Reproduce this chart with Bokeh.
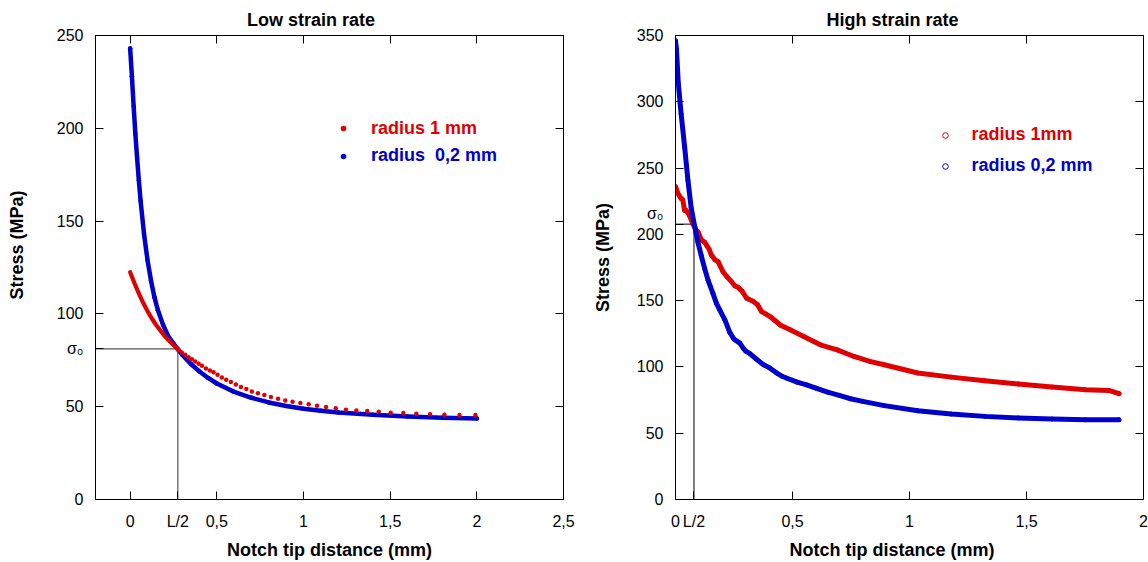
from bokeh.plotting import figure
from bokeh.layouts import row
from bokeh.models import (Range1d, LinearAxis, FixedTicker, CustomJSTickFormatter,
                          Legend, LegendItem)
from bokeh.core.properties import value
from bokeh.embed import file_html
from bokeh.resources import INLINE

RED = "#e00000"
BLUE = "#0000cc"
FONT = "Liberation Sans"
NB = "\u00a0"

# ---------------- Low strain rate (left) ----------------
low_x_ticks = [0, 0.5, 1, 1.5, 2, 2.5]
low_y_ticks = [0, 50, 100, 150, 200, 250]

low_r1_line_x = [0, 0.025, 0.05, 0.075, 0.1, 0.125, 0.15, 0.175, 0.2, 0.225, 0.25, 0.279]
low_r1_line_y = [122.5, 116.5, 111, 106, 101.5, 97.5, 94, 91, 88, 85.5, 83.2, 80.6]

low_r1_dot_x = [0.279, 0.298, 0.318, 0.337, 0.356, 0.375, 0.395, 0.414, 0.437, 0.460,
                0.481, 0.504, 0.529, 0.554, 0.581, 0.610, 0.639, 0.670, 0.702, 0.737,
                0.774, 0.812, 0.853, 0.895, 0.937, 0.982, 1.030, 1.078, 1.130, 1.186,
                1.245, 1.305, 1.368, 1.434, 1.503, 1.576, 1.651, 1.730, 1.813, 1.900, 1.992]
low_r1_dot_y = [80.6, 79.2, 78.0, 76.7, 75.6, 74.4, 73.1, 72.0, 70.6, 69.5,
                68.5, 67.2, 65.8, 64.5, 63.3, 62.0, 60.6, 59.5, 58.2, 57.2,
                56.3, 55.2, 54.3, 53.4, 52.7, 52.0, 51.3, 50.5, 49.8, 49.1,
                48.4, 48.0, 47.7, 47.3, 46.8, 46.6, 46.2, 45.9, 45.7, 45.5, 45.5]

low_r02_x = [0, 0.01, 0.02, 0.03, 0.04, 0.05, 0.06, 0.08, 0.1, 0.12, 0.14, 0.16, 0.19,
             0.22, 0.25, 0.275, 0.3, 0.35, 0.4, 0.45, 0.5, 0.6, 0.7, 0.8, 0.9, 1.0,
             1.1, 1.2, 1.4, 1.6, 1.8, 2.0]
low_r02_y = [243, 228, 212, 197, 184, 172, 161, 143, 129, 118, 109, 102, 94,
             88, 84, 81, 78, 73, 69, 65.5, 62.5, 58, 54.8, 52.3, 50.4, 48.9,
             47.8, 46.9, 45.6, 44.7, 44.1, 43.7]

low_sigma0 = 81.2
low_half_L = 0.275

# ---------------- High strain rate (right) ----------------
high_x_ticks = [0, 0.5, 1, 1.5, 2]
high_y_ticks = [0, 50, 100, 150, 200, 250, 300, 350]

high_r1_x = [0, 0.01, 0.024, 0.031, 0.039, 0.046, 0.06, 0.074, 0.089, 0.096, 0.11,
             0.125, 0.132, 0.143, 0.153, 0.168, 0.182, 0.203, 0.22, 0.239, 0.255,
             0.268, 0.285, 0.304, 0.333, 0.35, 0.368, 0.385, 0.404, 0.425, 0.447,
             0.49, 0.548, 0.619, 0.691, 0.763, 0.834, 0.892, 1.035, 1.178, 1.322,
             1.465, 1.609, 1.752, 1.852, 1.895]
high_r1_y = [236, 231, 227, 226, 218, 218, 214, 208, 203, 202, 196,
             194, 192, 189, 184.5, 181, 179.4, 171.8, 168, 164.3, 161,
             160, 157, 151.8, 149.3, 147, 141.7, 140, 138, 135, 131.7,
             128, 123, 116.7, 112.9, 107.9, 104, 101.6, 95.4, 92.3, 89.6,
             87.1, 84.8, 82.8, 82.3, 79.8]

high_r02_x = [0, 0.004, 0.012, 0.024, 0.039, 0.053, 0.067, 0.082, 0.096, 0.11, 0.125,
              0.139, 0.16, 0.175, 0.189, 0.211, 0.232, 0.25, 0.275, 0.29, 0.3, 0.318,
              0.345, 0.376, 0.4, 0.433, 0.455, 0.476, 0.52, 0.56, 0.6, 0.65, 0.7,
              0.748, 0.8, 0.892, 1.035, 1.178, 1.322, 1.465, 1.609, 1.752, 1.895]
high_r02_y = [346, 340, 314, 291, 266, 241, 220, 206, 194, 184, 174,
              165.5, 155.5, 148, 143, 135.5, 126, 121, 118, 114, 112, 110,
              106, 101.6, 99.5, 95.4, 93, 91.5, 88.5, 86.5, 84, 81, 78.5,
              76, 74, 70.8, 67, 64.5, 62.7, 61.5, 60.7, 60.2, 60.2]

high_sigma0 = 207.7
high_half_L = 0.079


def style_axes(p, xticks, yticks, x_over, y_over, ylabel, ylabel_standoff, xlabel):
    bottom = p.below[0]
    left = p.left[0]
    top = LinearAxis()
    right = LinearAxis()
    p.add_layout(top, "above")
    p.add_layout(right, "right")
    bottom.ticker = FixedTicker(ticks=sorted(xticks + list(x_over.keys())))
    top.ticker = FixedTicker(ticks=xticks)
    left.ticker = FixedTicker(ticks=sorted(yticks + list(y_over.keys())))
    right.ticker = FixedTicker(ticks=yticks)
    for ax in [bottom, left, top, right]:
        ax.axis_line_color = "black"
        ax.major_tick_line_color = "black"
        ax.major_tick_in = 8
        ax.major_tick_out = 0
        ax.minor_tick_line_color = None
        ax.major_label_text_font = FONT
        ax.major_label_text_font_size = "16px"
        ax.major_label_text_color = "black"
        ax.axis_label_text_font = FONT
        ax.axis_label_text_font_size = "18px"
        ax.axis_label_text_font_style = "bold"
        ax.axis_label_text_color = "black"
    bottom.formatter = CustomJSTickFormatter(code="return tick.toString().replace('.', ',');")
    bottom.major_label_overrides = x_over
    left.major_label_overrides = y_over
    bottom.major_label_standoff = 13
    left.major_label_standoff = 12
    bottom.axis_label = xlabel
    bottom.axis_label_standoff = 7
    left.axis_label = ylabel
    left.axis_label_standoff = ylabel_standoff
    for ax in [top, right]:
        ax.formatter = CustomJSTickFormatter(code="return '';")
        ax.major_label_text_font_size = "0px"
        ax.major_label_standoff = 0
    p.xgrid.visible = False
    p.ygrid.visible = False
    p.outline_line_color = "black"
    p.background_fill_color = "white"
    p.border_fill_color = "white"


def style_title(p, text, offset):
    p.title.text = text
    p.title.align = "left"
    p.title.offset = offset
    p.title.standoff = 12
    p.title.text_font = FONT
    p.title.text_font_size = "18px"
    p.title.text_font_style = "bold"
    p.title.text_color = "black"


def add_legend(p, text, renderer, color, x, y, standoff):
    leg = Legend(items=[LegendItem(label=value(text), renderers=[renderer])],
                 location=(x, y), padding=0, margin=0, spacing=0,
                 glyph_width=14, glyph_height=20, label_standoff=standoff,
                 label_text_font=FONT, label_text_font_size="18px",
                 label_text_font_style="bold", label_text_color=color,
                 border_line_color=None, background_fill_alpha=0)
    p.add_layout(leg)


# ---------------- left figure ----------------
p1 = figure(width=580, height=562, x_range=Range1d(-0.2, 2.5), y_range=Range1d(0, 250),
            output_backend="svg", toolbar_location=None,
            min_border_left=95, min_border_right=17, min_border_top=35, min_border_bottom=62)
style_axes(p1, low_x_ticks, low_y_ticks, {low_half_L: "L/2"}, {low_sigma0: "σ₀"},
           NB * 9 + "Stress (MPa)", 27, "Notch tip distance (mm)")
style_title(p1, "Low strain rate", 151.5)

p1.segment(x0=[-0.2], y0=[low_sigma0], x1=[low_half_L], y1=[low_sigma0],
           line_color="#555555", line_width=1.2)
p1.segment(x0=[low_half_L], y0=[0], x1=[low_half_L], y1=[low_sigma0],
           line_color="#555555", line_width=1.2)

b1_pts = p1.scatter(low_r02_x, low_r02_y, size=4.5, fill_color=BLUE, line_color=None)
p1.line(low_r02_x, low_r02_y, line_color=BLUE, line_width=4.5, line_join="round", line_cap="round")
p1.line(low_r1_line_x, low_r1_line_y, line_color=RED, line_width=4.2, line_join="round", line_cap="round")
r1_pts = p1.scatter(low_r1_dot_x, low_r1_dot_y, size=4.5, fill_color=RED, line_color=None)

add_legend(p1, "radius 1 mm", r1_pts, RED, 241, 360.5, 21)
add_legend(p1, "radius  0,2 mm", b1_pts, BLUE, 241, 333, 21)

# ---------------- right figure ----------------
p2 = figure(width=568, height=562, x_range=Range1d(0, 2), y_range=Range1d(0, 350),
            output_backend="svg", toolbar_location=None,
            min_border_left=95, min_border_right=5, min_border_top=35, min_border_bottom=62)
style_axes(p2, high_x_ticks, high_y_ticks, {high_half_L: "L/2"}, {high_sigma0: "σ₀\n" + NB},
           NB * 4 + "Stress (MPa)", 21, "Notch tip distance (mm)" + NB * 7)
style_title(p2, "High strain rate", 151)

p2.segment(x0=[0], y0=[high_sigma0], x1=[high_half_L], y1=[high_sigma0],
           line_color="black", line_width=1)
p2.segment(x0=[high_half_L], y0=[0], x1=[high_half_L], y1=[high_sigma0],
           line_color="black", line_width=1)

r2_pts = p2.scatter(high_r1_x, high_r1_y, size=4, fill_color=None, line_color=RED, line_width=1)
b2_pts = p2.scatter(high_r02_x, high_r02_y, size=4, fill_color=None, line_color=BLUE, line_width=1)
p2.line(high_r1_x, high_r1_y, line_color=RED, line_width=5, line_join="round", line_cap="round")
p2.line(high_r02_x, high_r02_y, line_color=BLUE, line_width=5, line_join="round", line_cap="round")

add_legend(p2, "radius 1mm", r2_pts, RED, 262.5, 354, 20)
add_legend(p2, "radius 0,2 mm", b2_pts, BLUE, 262.5, 323, 20)

layout = row(p1, p2)
open("out.html", "w").write(file_html(layout, INLINE))
